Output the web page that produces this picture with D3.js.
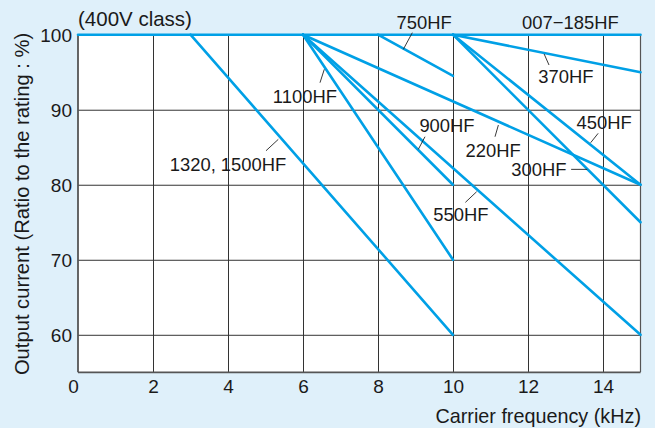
<!DOCTYPE html>
<html lang="en">
<head>
<meta charset="UTF-8">
<title>Output current vs carrier frequency</title>
<script src="https://d3js.org/d3.v7.min.js"></script>
<style>
  body { margin: 0; }
  text { font-family: "Liberation Sans", Arial, Helvetica, sans-serif; fill: #1a1a1a; }
</style>
</head>
<body>
<script>
// derating lines: every model starts at 100 % and falls to yEnd at xEnd (kHz)
var models = ["007\u2212185HF", "370HF", "750HF", "450HF", "300HF", "220HF", "900HF", "1100HF", "550HF", "1320, 1500HF"];
var xStart = [0, 10, 8, 10, 10, 6, 6, 6, 6, 3];
var xEnd   = [15, 15, 10, 15, 15, 15, 10, 10, 15, 10];
var yEnd   = [100, 95, 94.5, 80, 75, 80, 80, 70, 60, 60];

var xTicks = [0, 2, 4, 6, 8, 10, 12, 14];
var yTicks = [60, 70, 80, 90, 100];

// label anchors and leader lines, in data units (kHz, %)
var labelX = [13.13, 13.01, 9.23, 14.03, 12.29, 11.07, 9.84, 6.05, 10.21, 4.0];
var labelY = [100.72, 93.52, 100.72, 87.39, 81.16, 83.73, 86.99, 90.89, 75.2, 81.87];
var leaders = [
  null,
  [12.43, 97.43, 12.56, 95.96],
  [8.915, 100.27, 8.675, 98.05],
  [13.87, 86.85, 13.67, 85.6],
  [13.15, 82.05, 13.58, 82.05],
  [11.21, 87.96, 11.12, 86.4],
  [9.253, 86.4, 9.075, 84.72],
  [6.568, 95.39, 6.453, 93.6],
  [10.33, 77.65, 10.63, 79.07],
  [5.013, 84.53, 5.341, 86.05]
];

var W = 655, H = 428;
var blue = "#00a0e6";

var x = d3.scaleLinear().domain([0, 15]).range([78, 640.5]);
var y = d3.scaleLinear().domain([55, 100]).range([372.3, 34.7]);

var svg = d3.select("body").append("svg")
    .attr("width", W).attr("height", H);

svg.append("rect").attr("width", W).attr("height", H).attr("fill", "#dff0fa");
svg.append("rect")
    .attr("x", x(0)).attr("y", y(100))
    .attr("width", x(15) - x(0)).attr("height", y(55) - y(100))
    .attr("fill", "#fff");

// grid
svg.append("g")
    .attr("transform", "translate(0," + y(55) + ")")
    .call(d3.axisBottom(x).tickValues(xTicks.slice(1)).tickSize(-(y(55) - y(100))).tickFormat(""))
    .call(function(g) { g.select(".domain").remove(); })
    .selectAll("line").attr("stroke", "#333").attr("stroke-width", 1);

svg.append("g")
    .attr("transform", "translate(" + x(0) + ",0)")
    .call(d3.axisLeft(y).tickValues(yTicks.slice(0, 4)).tickSize(-(x(15) - x(0))).tickFormat(""))
    .call(function(g) { g.select(".domain").remove(); })
    .selectAll("line").attr("stroke", "#333").attr("stroke-width", 1);

// frame
svg.append("line").attr("x1", x(15)).attr("x2", x(15)).attr("y1", y(100)).attr("y2", y(55))
    .attr("stroke", "#555").attr("stroke-width", 1.2);
svg.append("line").attr("x1", x(0)).attr("x2", x(0)).attr("y1", y(100)).attr("y2", y(55))
    .attr("stroke", "#555").attr("stroke-width", 1.8);
svg.append("line").attr("x1", x(0)).attr("x2", x(15)).attr("y1", y(55)).attr("y2", y(55))
    .attr("stroke", "#555").attr("stroke-width", 1.8);

// tick labels
var xAxis = svg.append("g")
    .attr("transform", "translate(0," + y(55) + ")")
    .call(d3.axisBottom(x).tickValues(xTicks).tickSize(0).tickPadding(0));
xAxis.select(".domain").remove();
xAxis.selectAll("text")
    .attr("font-size", 19).attr("font-family", null).attr("fill", null)
    .attr("y", 0).attr("dy", 20.4)
    .attr("x", function(d) { return d === 0 ? -5 : 0; });

var yAxis = svg.append("g")
    .attr("transform", "translate(" + x(0) + ",0)")
    .call(d3.axisLeft(y).tickValues(yTicks).tickSize(0).tickPadding(0));
yAxis.select(".domain").remove();
yAxis.selectAll("text")
    .attr("font-size", 19).attr("font-family", null).attr("fill", null)
    .attr("x", -6).attr("dy", "0.36em");

// derating lines
var idx = d3.range(models.length);
svg.append("g").selectAll("line")
    .data(idx)
    .join("line")
    .attr("x1", function(i) { return x(xStart[i]); })
    .attr("y1", function(i) { return y(100); })
    .attr("x2", function(i) { return x(xEnd[i]); })
    .attr("y2", function(i) { return y(yEnd[i]); })
    .attr("stroke", blue)
    .attr("stroke-width", 2.6)
    .attr("stroke-linecap", "round");

// leaders
svg.append("g").selectAll("line")
    .data(idx.filter(function(i) { return leaders[i]; }))
    .join("line")
    .attr("x1", function(i) { return x(leaders[i][0]); })
    .attr("y1", function(i) { return y(leaders[i][1]); })
    .attr("x2", function(i) { return x(leaders[i][2]); })
    .attr("y2", function(i) { return y(leaders[i][3]); })
    .attr("stroke", "#222")
    .attr("stroke-width", 0.9);

// model labels
svg.append("g").selectAll("text")
    .data(idx)
    .join("text")
    .attr("x", function(i) { return x(labelX[i]); })
    .attr("y", function(i) { return y(labelY[i]); })
    .attr("text-anchor", "middle")
    .attr("font-size", 18.4)
    .text(function(i) { return models[i]; });

// titles
svg.append("text")
    .attr("x", 78).attr("y", 26)
    .attr("font-size", 20.5)
    .text("(400V class)");

svg.append("text")
    .attr("x", 641).attr("y", 423)
    .attr("text-anchor", "end")
    .attr("font-size", 19.8)
    .text("Carrier frequency (kHz)");

svg.append("text")
    .attr("transform", "translate(29.3,204) rotate(-90)")
    .attr("text-anchor", "middle")
    .attr("font-size", 20.2)
    .text("Output current (Ratio to the rating : %)");
</script>
</body>
</html>
